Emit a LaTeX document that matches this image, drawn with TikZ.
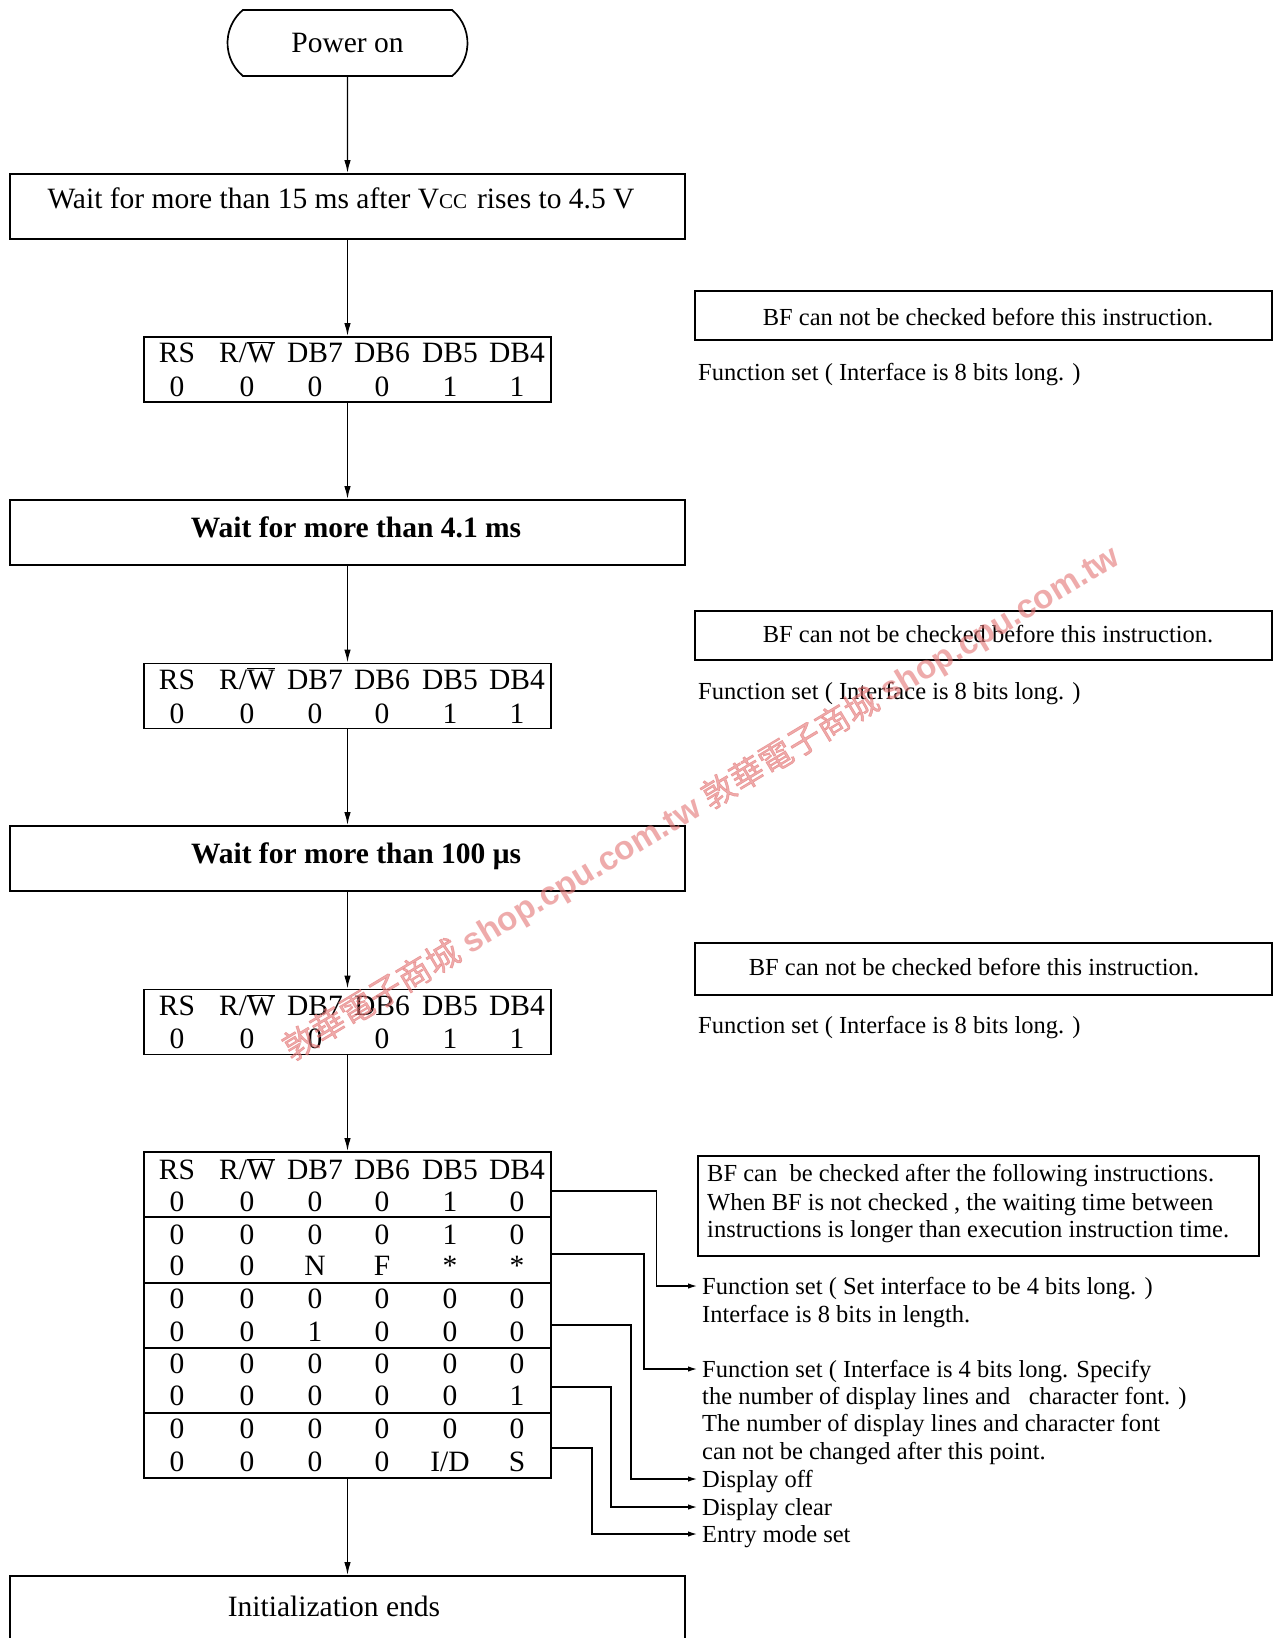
\documentclass[tikz,border=0pt]{standalone}
\usepackage{fontspec}
\setmainfont{Liberation Serif}
\newfontfamily\cjkfont[FakeBold=1.5]{Noto Sans CJK TC}
\newfontfamily\wmfont{Liberation Sans}
\usetikzlibrary{arrows.meta,shapes.misc}
\definecolor{wm}{RGB}{228,115,115}
\newcommand\rwbar{R/$\overline{\mbox{W}}$}
\newcommand\idtxt{I/D}
\def\colx{{177,247,315,382,450,517}}
\newcommand\regrows[4]{%
  \node[regbox] (#1) at (347.5,#2) {};
  \foreach \t [count=\c] in {RS,\rwbar,DB7,DB6,DB5,DB4}
    {\pgfmathsetmacro\cx{\colx[\c-1]}\node[mytxt] (#1h\c) at (\cx,#3) {\t};}
  \foreach \t [count=\c] in {0,0,0,0,1,1}
    {\pgfmathsetmacro\cx{\colx[\c-1]}\node[mytxt] (#1v\c) at (\cx,#4) {\t};}
}
\begin{document}
\begin{tikzpicture}[x=1pt,y=-1pt,
  mytxt/.style={font=\fontsize{29.5}{32}\selectfont, inner sep=0, text height=19.5, text depth=0},
  mybold/.style={font=\fontsize{29.5}{32}\selectfont\bfseries, inner sep=0, text height=19.5, text depth=0},
  notetxt/.style={font=\fontsize{24.5}{27}\selectfont, inner sep=0, text height=16, text depth=0},
  frm/.style={draw, line width=1.9pt, inner sep=0},
  flowbox/.style={frm, minimum width=675, minimum height=65},
  regbox/.style={frm, minimum width=407, minimum height=65},
  notebox/.style={draw, line width=1.6pt, inner sep=0, minimum width=577},
  flowarr/.style={line width=1.4pt, -{Latex[length=13pt,width=6.5pt]}},
  sidearr/.style={line width=1.3pt, -{Latex[length=9pt,width=5.5pt]}},
]
\useasboundingbox (0,0) rectangle (1283,1638);
\fill[white] (0,0) rectangle (1283,1638);

% flow column
\node[draw, line width=1.7pt, rounded rectangle, rounded rectangle arc length=100,
      minimum width=240, minimum height=66, mytxt] (pon) at (347.5,43) {Power on};

\node[flowbox] (w1) at (347.5,206.5) {};
\node[mytxt] (w1t) at (341,199) {Wait for more than 15 ms after V{\fontsize{21}{21}\selectfont CC}\hspace{10pt}rises to 4.5 V};

\regrows{r1}{369.5}{353}{387}

\node[flowbox] (w2) at (347.5,532.5) {};
\node[mybold] (w2t) at (356,528) {Wait for more than 4.1 ms};

\regrows{r2}{696}{679.5}{713.5}

\node[flowbox] (w3) at (347.5,858.5) {};
\node[mybold] (w3t) at (356,854) {Wait for more than 100 μs};

\regrows{r3}{1022}{1006}{1038.5}

% big table
\node[regbox, minimum height=326] (tab) at (347.5,1315) {};
\foreach \t [count=\c] in {RS,\rwbar,DB7,DB6,DB5,DB4}
  {\pgfmathsetmacro\cx{\colx[\c-1]}\node[mytxt] (th\c) at (\cx,1170) {\t};}
\foreach \y/\vals [count=\r] in {1202/{0,0,0,0,1,0}, 1235/{0,0,0,0,1,0},
    1266/{0,0,N,F,*,*}, 1299/{0,0,0,0,0,0}, 1332/{0,0,1,0,0,0},
    1364/{0,0,0,0,0,0}, 1396/{0,0,0,0,0,1}, 1429/{0,0,0,0,0,0},
    1462/{0,0,0,0,\idtxt,S}}
  {\foreach \t [count=\c] in \vals
    {\pgfmathsetmacro\cx{\colx[\c-1]}\node[mytxt] (t\r-\c) at (\cx,\y) {\t};}}
\draw[line width=1.5pt] (144.5,1217) -- (551.5,1217);
\draw[line width=2.3pt] (144.5,1283) -- (551.5,1283);
\draw[line width=2.3pt] (144.5,1348) -- (551.5,1348);
\draw[line width=1.6pt] (144.5,1413) -- (551.5,1413);

\node[flowbox] (init) at (347.5,1608.5) {};
\node[mytxt] (initt) at (334,1607) {Initialization ends};

% main arrows
\draw[flowarr] (pon) -- (w1);
\draw[flowarr] (w1) -- (r1);
\draw[flowarr] (r1) -- (w2);
\draw[flowarr] (w2) -- (r2);
\draw[flowarr] (r2) -- (w3);
\draw[flowarr] (w3) -- (r3);
\draw[flowarr] (r3) -- (tab);
\draw[flowarr] (tab) -- (init);

% notes
\node[notebox, minimum height=49] (n1) at (983.5,315.5) {};
\node[notetxt] (n1t) at (988,317) {BF can not be checked before this instruction.};
\node[notetxt, anchor=west] (fs1) at (698,372) {Function set ( Interface is 8 bits long. )};

\node[notebox, minimum height=49] (n2) at (983.5,635.5) {};
\node[notetxt] (n2t) at (988,634) {BF can not be checked before this instruction.};
\node[notetxt, anchor=west] (fs2) at (698,691) {Function set ( Interface is 8 bits long. )};

\node[notebox, minimum height=52] (n3) at (983.5,969) {};
\node[notetxt] (n3t) at (974,967) {BF can not be checked before this instruction.};
\node[notetxt, anchor=west] (fs3) at (698,1025) {Function set ( Interface is 8 bits long. )};

\node[notebox, minimum width=561, minimum height=100] (n4) at (978.5,1206) {};
\node[notetxt, anchor=west] (n4a) at (707,1173) {BF can\ \ be checked after the following instructions.};
\node[notetxt, anchor=west] (n4b) at (707,1202) {When BF is not checked , the waiting time between};
\node[notetxt, anchor=west] (n4c) at (707,1229) {instructions is longer than execution instruction time.};

% side labels
\node[notetxt, anchor=west] (l1) at (702,1286) {Function set ( Set interface to be 4 bits long. )};
\node[notetxt, anchor=west] (l2) at (702,1314) {Interface is 8 bits in length.};
\node[notetxt, anchor=west] (l3) at (702,1369) {Function set ( Interface is 4 bits long. Specify};
\node[notetxt, anchor=west] (l4) at (702,1396) {the number of display lines and\ \ \ character font. )};
\node[notetxt, anchor=west] (l5) at (702,1423) {The number of display lines and character font};
\node[notetxt, anchor=west] (l6) at (702,1451) {can not be changed after this point.};
\node[notetxt, anchor=west] (l7) at (702,1479) {Display off};
\node[notetxt, anchor=west] (l8) at (702,1507) {Display clear};
\node[notetxt, anchor=west] (l9) at (702,1534) {Entry mode set};

% side connectors
\coordinate (s1) at (551.5,1191);
\coordinate (s2) at (551.5,1254);
\coordinate (s3) at (551.5,1325);
\coordinate (s4) at (551.5,1387);
\coordinate (s5) at (551.5,1448);
\draw[sidearr] (s1) -- ++(105,0) |- ([xshift=-5pt]l1.west);
\draw[sidearr] (s2) -- ++(92.5,0) |- ([xshift=-5pt]l3.west);
\draw[sidearr] (s3) -- ++(79.5,0) |- ([xshift=-5pt]l7.west);
\draw[sidearr] (s4) -- ++(59.5,0) |- ([xshift=-5pt]l8.west);
\draw[sidearr] (s5) -- ++(40.5,0) |- ([xshift=-5pt]l9.west);

% watermark
\node[rotate=31, text=wm, opacity=0.6, inner sep=0, font=\fontsize{33.3}{33}\selectfont] (wmk) at (701.5,803)
  {{\cjkfont 敦華電子商城} {\wmfont\bfseries shop.cpu.com.tw} {\cjkfont 敦華電子商城} {\wmfont\bfseries shop.cpu.com.tw}};
\end{tikzpicture}
\end{document}
